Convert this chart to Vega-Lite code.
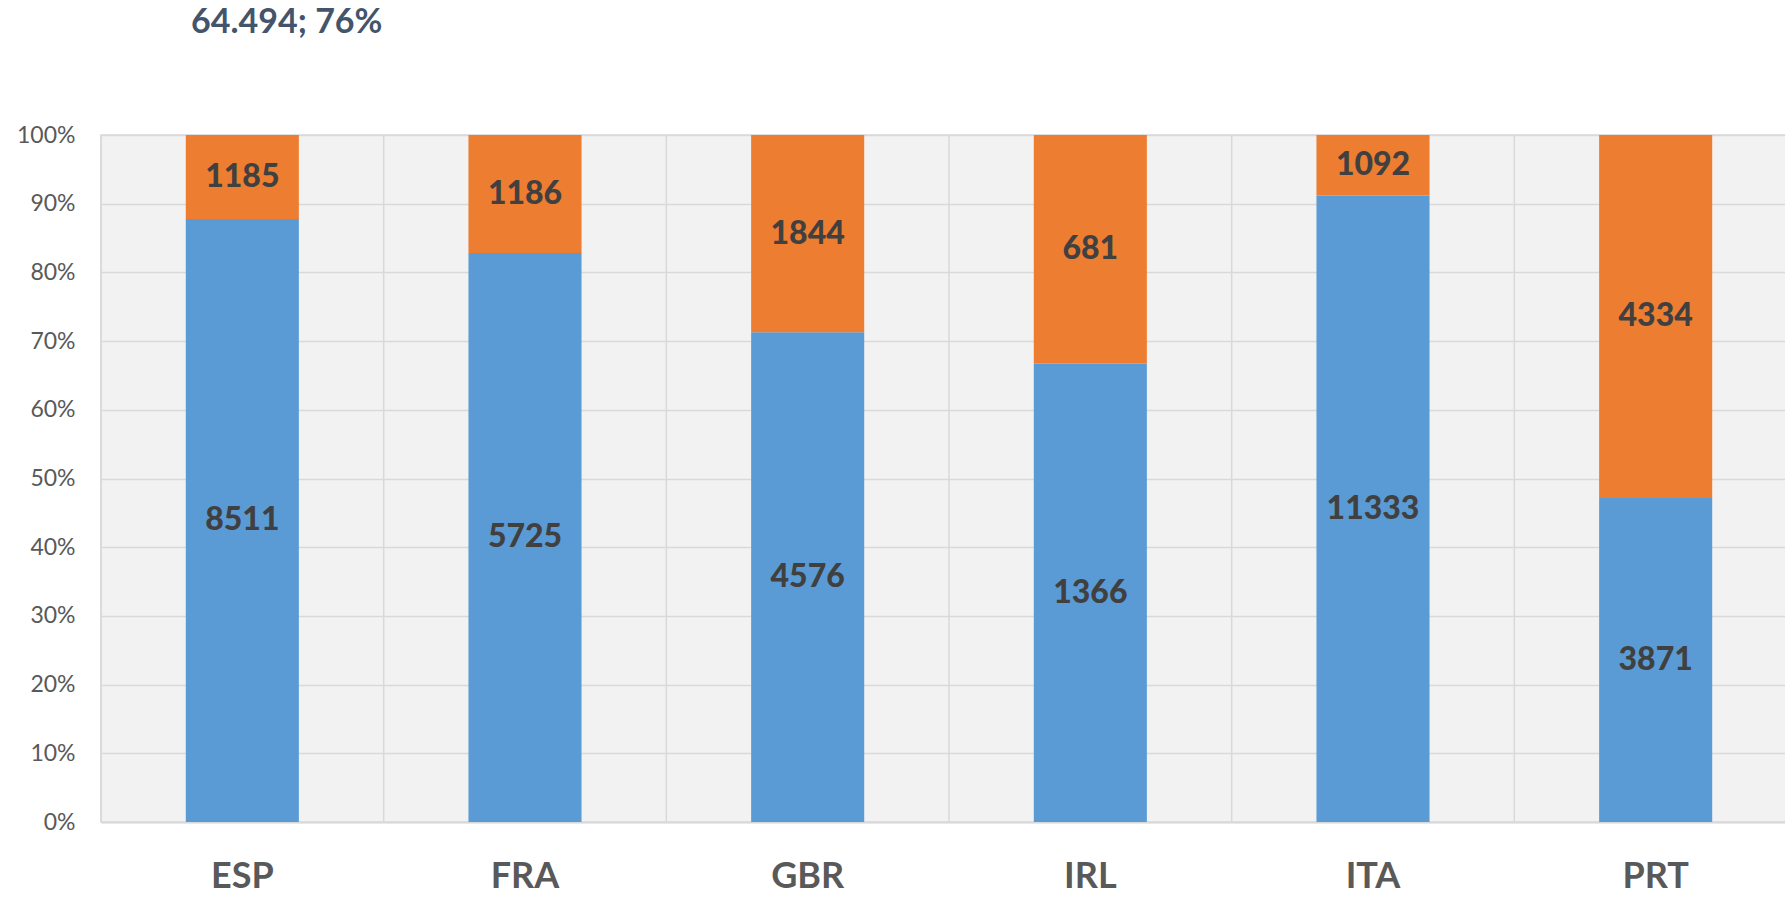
{
  "$schema": "https://vega.github.io/schema/vega-lite/v6.json",
  "width": 1696,
  "height": 687,
  "autosize": {"type": "none"},
  "padding": {"left": 101, "top": 135, "right": 0, "bottom": 80},
  "background": "white",
  "title": {
    "text": "64.494; 76%",
    "anchor": "start",
    "frame": "group",
    "dx": 90,
    "offset": 57,
    "baseline": "alphabetic",
    "font": "Lato",
    "fontSize": 34,
    "fontWeight": "bold",
    "color": "#44546A"
  },
  "data": {
    "values": [
      {"pais": "ESP", "serie": "A", "orden": 1, "valor": 8511},
      {"pais": "ESP", "serie": "B", "orden": 2, "valor": 1185},
      {"pais": "FRA", "serie": "A", "orden": 1, "valor": 5725},
      {"pais": "FRA", "serie": "B", "orden": 2, "valor": 1186},
      {"pais": "GBR", "serie": "A", "orden": 1, "valor": 4576},
      {"pais": "GBR", "serie": "B", "orden": 2, "valor": 1844},
      {"pais": "IRL", "serie": "A", "orden": 1, "valor": 1366},
      {"pais": "IRL", "serie": "B", "orden": 2, "valor": 681},
      {"pais": "ITA", "serie": "A", "orden": 1, "valor": 11333},
      {"pais": "ITA", "serie": "B", "orden": 2, "valor": 1092},
      {"pais": "PRT", "serie": "A", "orden": 1, "valor": 3871},
      {"pais": "PRT", "serie": "B", "orden": 2, "valor": 4334}
    ]
  },
  "transform": [
    {"stack": "valor", "groupby": ["pais"], "sort": [{"field": "orden"}], "offset": "normalize", "as": ["y0", "y1"]}
  ],
  "encoding": {
    "x": {
      "field": "pais",
      "type": "nominal",
      "sort": null,
      "scale": {"paddingInner": 0.6, "paddingOuter": 0.3},
      "axis": {"title": null, "grid": false}
    }
  },
  "layer": [
    {
      "transform": [{"filter": "datum.serie === 'A'"}],
      "mark": {"type": "rule", "color": "#d9d9d9", "strokeWidth": 1.5},
      "encoding": {
        "x": {"field": "pais", "type": "nominal", "sort": null, "bandPosition": -0.75}
      }
    },
    {
      "mark": {"type": "bar"},
      "encoding": {
        "y": {
          "field": "y0",
          "type": "quantitative",
          "scale": {"domain": [0, 1]},
          "axis": {"title": null, "format": ".0%", "values": [0, 0.1, 0.2, 0.3, 0.4, 0.5, 0.6, 0.7, 0.8, 0.9, 1]}
        },
        "y2": {"field": "y1"},
        "color": {
          "field": "serie",
          "type": "nominal",
          "scale": {"domain": ["A", "B"], "range": ["#5B9BD5", "#ED7D31"]},
          "legend": null
        }
      }
    },
    {
      "transform": [
        {"fold": ["y0", "y1"], "as": ["k", "v"]},
        {"aggregate": [{"op": "mean", "field": "v", "as": "mid"}], "groupby": ["pais", "serie", "valor"]}
      ],
      "mark": {
        "type": "text",
        "font": "Lato",
        "fontSize": 32,
        "fontWeight": 900,
        "color": "#404040",
        "baseline": "middle",
        "align": "center"
      },
      "encoding": {
        "y": {
          "field": "mid",
          "type": "quantitative",
          "axis": {"title": null, "format": ".0%", "values": [0, 0.1, 0.2, 0.3, 0.4, 0.5, 0.6, 0.7, 0.8, 0.9, 1]}
        },
        "text": {"field": "valor", "type": "quantitative", "format": "d"}
      }
    }
  ],
  "config": {
    "view": {"fill": "#f2f2f2", "stroke": "#d9d9d9", "strokeWidth": 1.5},
    "axisX": {
      "labelAngle": 0,
      "labelFont": "Lato",
      "labelFontSize": 36,
      "labelFontWeight": "bold",
      "labelColor": "#595959",
      "labelPadding": 37,
      "ticks": false,
      "domain": true,
      "domainColor": "#d9d9d9",
      "domainWidth": 2,
      "grid": false
    },
    "axisY": {
      "labelFont": "Lato",
      "labelFontSize": 23,
      "labelColor": "#595959",
      "labelPadding": 26,
      "ticks": false,
      "domain": false,
      "grid": true,
      "gridColor": "#d9d9d9",
      "gridWidth": 1.5
    }
  }
}
